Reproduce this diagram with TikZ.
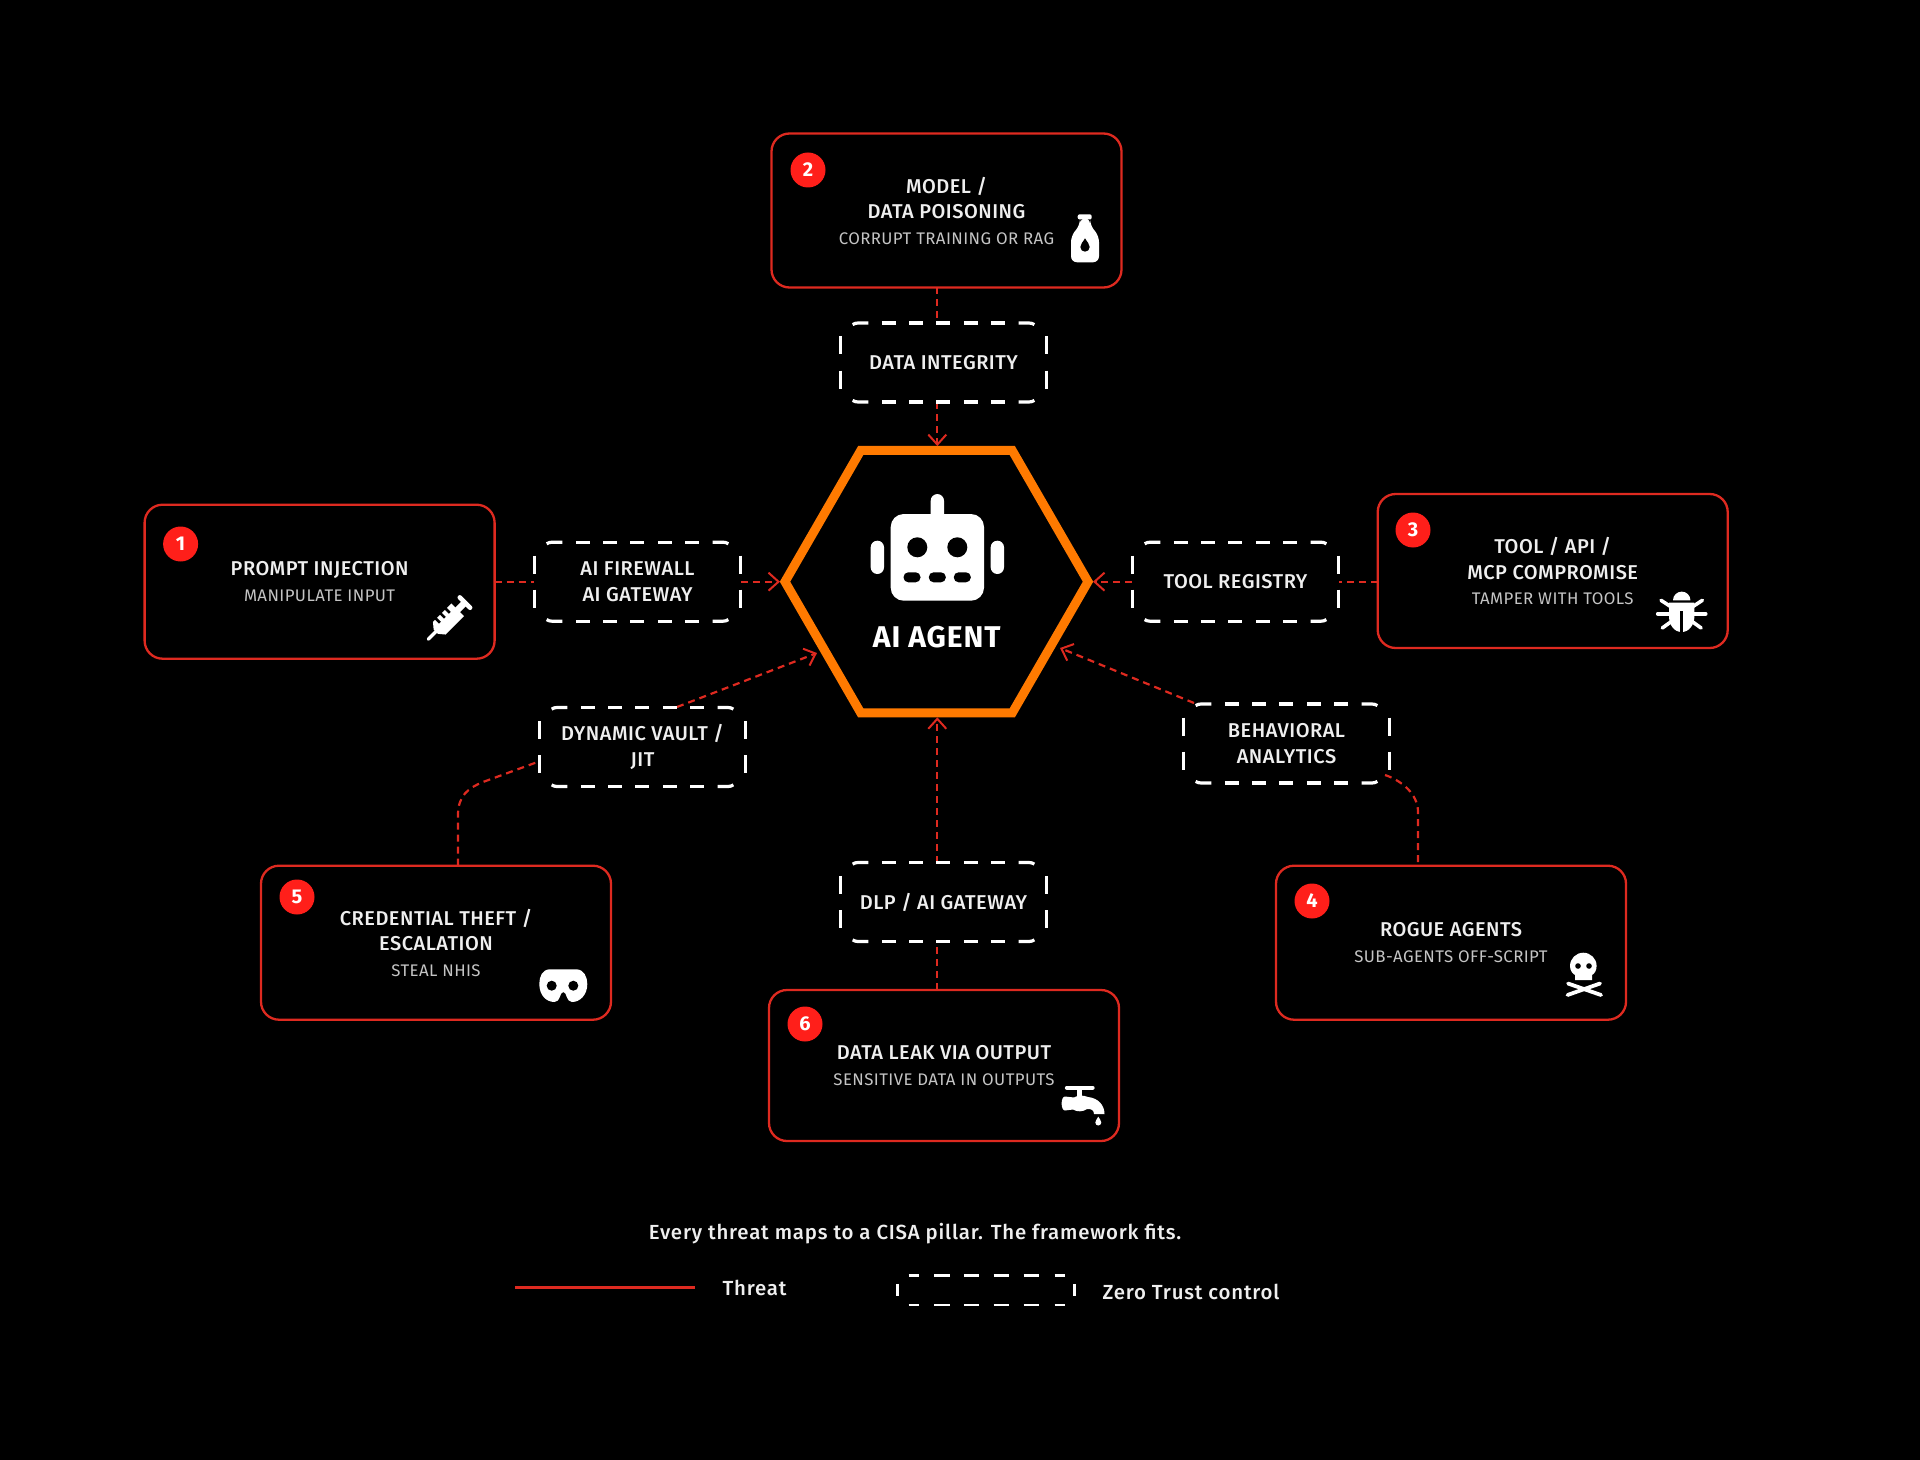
\documentclass[tikz,border=0pt]{standalone}
\usepackage{fontspec}
\usetikzlibrary{arrows.meta,shapes.geometric,calc}
\setmainfont{Fira Sans}
\newfontfamily\hdf{Fira Sans Medium}[LetterSpace=2.5]
\newfontfamily\sbf{Fira Sans}[LetterSpace=2.5]
\newfontfamily\lgf{Fira Sans Medium}[LetterSpace=4]
\newfontfamily\agf{Fira Sans}[LetterSpace=3]
\definecolor{threatred}{HTML}{DE2A20}
\definecolor{badgered}{HTML}{FF1F1A}
\definecolor{hexorange}{HTML}{FF7A00}
\definecolor{subgrey}{HTML}{C4C4C4}
\definecolor{headwhite}{HTML}{EFEFEF}
\newcommand{\subl}[1]{{\sbf\fontsize{8.4}{12.75}\selectfont\color{subgrey}#1}}
\tikzset{
  threatbox/.style={draw=threatred,line width=1.15pt,rounded corners=9pt,minimum width=175pt,minimum height=77pt,
    outer sep=0pt,inner sep=0pt,align=center,text=headwhite,font=\hdf\fontsize{10}{12.75}\selectfont},
  ctrlbox/.style={minimum width=103.35pt,minimum height=39.5pt,outer sep=0pt,inner sep=0pt,align=center,
    text=headwhite,font=\hdf\fontsize{10}{12.75}\selectfont},
  badge/.style={circle,fill=badgered,minimum size=17.5pt,inner sep=0pt,text=white,font=\bfseries\fontsize{10}{10}\selectfont},
  threat/.style={draw=threatred,line width=1.1pt,dash pattern=on 3.5pt off 2.5pt},
  threatarrow/.style={threat,-{Straight Barb[length=5pt,width=9pt,line width=1pt,sep=0pt]}},
  ctrlline/.style={draw=white,line width=1.6pt},
  legendtext/.style={text=headwhite,font=\lgf\fontsize{10.2}{12}\selectfont,inner sep=0pt},
  icon/.style={fill=white,draw=none},
  hole/.style={fill=black,draw=none},
}
% the dashes of a control box
\newcommand{\ctrldash}[1]{%
  \begin{scope}[shift={(#1.north west)}]
    \draw[ctrlline] (12.5,1.6) .. controls (14,0.5) and (16,0) .. (18,0) -- (28.3,0);
    \draw[ctrlline] (194.2,1.6) .. controls (192.7,0.5) and (190.7,0) .. (188.7,0) -- (178.4,0);
    \draw[ctrlline] (12.5,77.4) .. controls (14,78.5) and (16,79) .. (18,79) -- (28.3,79);
    \draw[ctrlline] (194.2,77.4) .. controls (192.7,78.5) and (190.7,79) .. (188.7,79) -- (178.4,79);
    \foreach \k in {41.7,69,96.3,123.7,151}{
      \draw[ctrlline] (\k,0) -- ++(14,0);
      \draw[ctrlline] (\k,79) -- ++(14,0);
    }
    \foreach \xx in {0,206.7}{
      \draw[ctrlline] (\xx,13.5) -- (\xx,31.5);
      \draw[ctrlline] (\xx,47.5) -- (\xx,65.5);
    }
  \end{scope}}
\begin{document}
\begin{tikzpicture}[x=0.5pt,y=-0.5pt]
\fill[black] (0,0) rectangle (1920,1460);
\useasboundingbox (0,0) rectangle (1920,1460);
\coordinate (hx) at (937.3,581.7);
% threat boxes
\node[threatbox] (b1) at (319.6,581.7) {PROMPT INJECTION\\\subl{MANIPULATE INPUT}};
\node[threatbox] (b2) at (946.5,210.5) {MODEL /\\DATA POISONING\\\subl{CORRUPT TRAINING OR RAG}};
\node[threatbox] (b3) at (1552.7,571) {TOOL / API /\\MCP COMPROMISE\\\subl{TAMPER WITH TOOLS}};
\node[threatbox] (b4) at (1451,942.7) {ROGUE AGENTS\\\subl{SUB-AGENTS OFF-SCRIPT}};
\node[threatbox] (b5) at (436,942.7) {CREDENTIAL THEFT /\\ESCALATION\\\subl{STEAL NHIS}};
\node[threatbox,minimum height=75.5pt] (b6) at (944,1065.5) {DATA LEAK VIA OUTPUT\\\subl{SENSITIVE DATA IN OUTPUTS}};
% badges
\node[badge] (n1) at (180.6,544) {1};
\node[badge] (n2) at (808,170) {2};
\node[badge] (n3) at (1413,530) {3};
\node[badge] (n4) at (1312,901) {4};
\node[badge] (n5) at (297,897) {5};
\node[badge] (n6) at (805,1024) {6};
% controls
\node[ctrlbox] (c1) at (637.5,581.7) {AI FIREWALL\\AI GATEWAY};
\node[ctrlbox] (c2) at (943.5,362.5) {DATA INTEGRITY};
\node[ctrlbox] (c3) at (1235.5,581.7) {TOOL REGISTRY};
\node[ctrlbox] (c4) at (1286.5,743.5) {BEHAVIORAL\\ANALYTICS};
\node[ctrlbox] (c5) at (642.5,747) {DYNAMIC VAULT /\\JIT};
\node[ctrlbox] (c6) at (943.5,902) {DLP / AI GATEWAY};
% hexagon
\node[regular polygon,regular polygon sides=6,minimum size=151.5pt,outer sep=0pt,inner sep=0pt,
  draw=hexorange,line width=4.5pt,miter limit=10] (hex) at (936.5,581.7) {};
% connectors
\coordinate (a4) at (1194,703);
\coordinate (t4) at (1060,648);
\coordinate (a5) at (677,707);
\coordinate (t5) at (817,653);
\coordinate (p5) at (458,815);
\coordinate (q5) at (537.5,762);
\coordinate (r4) at (1385,775);
\coordinate (p4) at (1418,812);
\coordinate (e4) at (1418,862);
\draw[threat] (b2.south -| hx) -- (c2.north -| hx);
\draw[threatarrow,shorten >=2.2pt] (c2.south -| hx) -- (hex.north -| hx);
\draw[threat] (b1.east |- hx) -- (c1.west |- hx);
\draw[threatarrow,shorten >=2.5pt] (c1.east |- hx) -- (hex.west);
\draw[threat] (b3.west |- hx) -- (c3.east |- hx);
\draw[threatarrow,shorten >=2.5pt] (c3.west |- hx) -- (hex.east);
\draw[threat] (b6.north -| hx) -- (c6.south -| hx);
\draw[threatarrow,shorten >=2.2pt] (c6.north -| hx) -- (hex.south -| hx);
\draw[threatarrow] (a4) -- (t4);
\draw[threatarrow] (a5) -- (t5);
\draw[threat] (b5.north -| p5) -- (p5) .. controls (458,796) and (468,788) .. (483,782) -- (q5);
\draw[threat] (r4) .. controls (1400,780) and (1418,793) .. (p4) -- (e4);
% control outlines
\foreach \c in {c1,c2,c3,c4,c5,c6}{\ctrldash{\c}}
% robot
\fill[icon] (930.7,520) -- (930.7,500.7) arc[start angle=180,end angle=360,radius=6.65] -- (944,520) -- cycle;
\fill[icon,rounded corners=6.5pt] (890.7,514) rectangle (984,600.7);
\fill[icon,rounded corners=3.3pt] (870.7,540.7) rectangle (884,574);
\fill[icon,rounded corners=3.3pt] (990.7,540.7) rectangle (1004,574);
\fill[hole] (917.3,547.3) circle[radius=10];
\fill[hole] (957.3,547.3) circle[radius=10];
\foreach \mx in {912,937.3,962.3}{\fill[hole,rounded corners=2.4pt] (\mx-8.5,572.3) rectangle (\mx+8.5,582.3);}
\node[text=white,font=\agf\bfseries\fontsize{15}{15}\selectfont,inner sep=0pt] (agent) at (936.7,637) {AI AGENT};
% syringe
\begin{scope}[shift={(428,639.5)},rotate=45]
  \fill[icon,rounded corners=1pt] (-1,-1.7) rectangle (16,1.7);
  \fill[icon] (11,-3) -- (16,-9) -- (42,-9) -- (42,9) -- (16,9) -- (11,3) -- cycle;
  \foreach \t in {19,26,33}{\fill[hole] (\t,-10) rectangle (\t+2.6,-3.5);}
  \fill[icon] (41,-3.2) rectangle (52,3.2);
  \fill[icon,rounded corners=1pt] (50,-9.5) rectangle (54.5,9.5);
\end{scope}
% bottle
\fill[icon,rounded corners=1pt] (1077.7,214.3) rectangle (1091.7,219.5);
\fill[icon,rounded corners=3pt] (1080,218) -- (1090,218) -- (1090,225) -- (1099,236) -- (1099,262.3) -- (1071,262.3) -- (1071,236) -- (1080,225) -- cycle;
\fill[hole] (1085,238.3) .. controls (1087,242) and (1089.7,244) .. (1089.7,247) arc[start angle=0,end angle=180,radius=4.7] .. controls (1080.3,244) and (1083,242) .. (1085,238.3) -- cycle;
% bug
\fill[icon] (1673,600.3) arc[start angle=180,end angle=360,radius=8.7] -- cycle;
\fill[icon] (1669,602.7) -- (1694.4,602.7) -- (1694.4,616) .. controls (1694.4,625) and (1689,632) .. (1681.7,632) .. controls (1674,632) and (1669,625) .. (1669,616) -- cycle;
\fill[hole] (1680.4,610.5) rectangle (1683,633);
\foreach \ax/\ay/\bx/\by in {1661/600.3/1672/607.5,1657.7/613.7/1670/613.7,1662.3/628/1672/621,1702.4/600.3/1691.4/607.5,1705.7/613.7/1693.4/613.7,1701.1/628/1691.4/621}{
  \draw[white,line width=1.8pt,line cap=round] (\ax,\ay) -- (\bx,\by);}
% skull and bones
\fill[icon] (1570,966) arc[start angle=180,end angle=360,radius=13.3] .. controls (1596.6,971) and (1594,974) .. (1592,975) -- (1592,980) -- (1575,980) -- (1575,975) .. controls (1573,974) and (1570,971) .. (1570,966) -- cycle;
\fill[hole] (1578,966) circle[radius=2.8];
\fill[hole] (1589,966) circle[radius=2.8];
\draw[white,line width=1.9pt,line cap=round] (1568,983.5) -- (1601,995);
\draw[white,line width=1.9pt,line cap=round] (1600,983.5) -- (1567.5,995);
% mask
\fill[icon] (550,969.3) -- (576,969.3) .. controls (584,969.3) and (587.3,977) .. (587.3,984) .. controls (587.3,995) and (580,1002) .. (572,1002) .. controls (566,1002) and (567,992) .. (563.3,992) .. controls (559.6,992) and (560.6,1002) .. (554.6,1002) .. controls (546,1002) and (539.3,995) .. (539.3,984) .. controls (539.3,977) and (542,969.3) .. (550,969.3) -- cycle;
\fill[hole] (551.7,985.7) circle[radius=5];
\fill[hole] (573.3,985.7) circle[radius=5];
% tap
\draw[white,line width=2.15pt,line cap=round] (1067,1087.8) -- (1092.5,1087.8);
\draw[white,line width=2.6pt] (1079.7,1086) -- (1079.7,1099);
\fill[icon] (1065,1096.5) -- (1074,1097.5) .. controls (1078,1095) and (1083,1095) .. (1088,1097) .. controls (1098,1098) and (1104.5,1105) .. (1104.5,1114) -- (1094,1114) .. controls (1094,1110.5) and (1091.5,1108.5) .. (1087,1109) .. controls (1083,1112) and (1077,1112) .. (1073,1109.5) -- (1065,1110.5) .. controls (1060.5,1110.5) and (1060.5,1096.5) .. (1065,1096.5) -- cycle;
\fill[icon] (1098.3,1116.7) .. controls (1099.5,1119) and (1101.3,1120.5) .. (1101.3,1122.5) arc[start angle=0,end angle=180,radius=3] .. controls (1095.3,1120.5) and (1097.1,1119) .. (1098.3,1116.7) -- cycle;
% legend
\node[legendtext] (caption) at (915,1233.5) {Every threat maps to a CISA pillar. The framework fits.};
\coordinate (la) at (515,1287.5);
\coordinate (lb) at (695,1287.5);
\draw[threatred,line width=1.25pt] (la) -- (lb);
\node[legendtext] (lt) at (754.5,1288) {Threat};
\node[minimum width=88.5pt,minimum height=14.75pt,inner sep=0pt,outer sep=0pt] (lg) at (986,1290.2) {};
\begin{scope}[shift={(lg.north west)}]
  \foreach \u/\v in {11/21.4,36.7/52,66.3/81.6,96/111,126/141,157/167}{
    \draw[ctrlline,line width=1.35pt] (\u,0) -- (\v,0);
    \draw[ctrlline,line width=1.35pt] (\u,29.5) -- (\v,29.5);
  }
  \foreach \xx in {0,177}{\draw[ctrlline,line width=1.35pt] (\xx,8.5) -- (\xx,21);}
\end{scope}
\node[legendtext] (lz) at (1191,1292) {Zero Trust control};
\end{tikzpicture}
\end{document}
